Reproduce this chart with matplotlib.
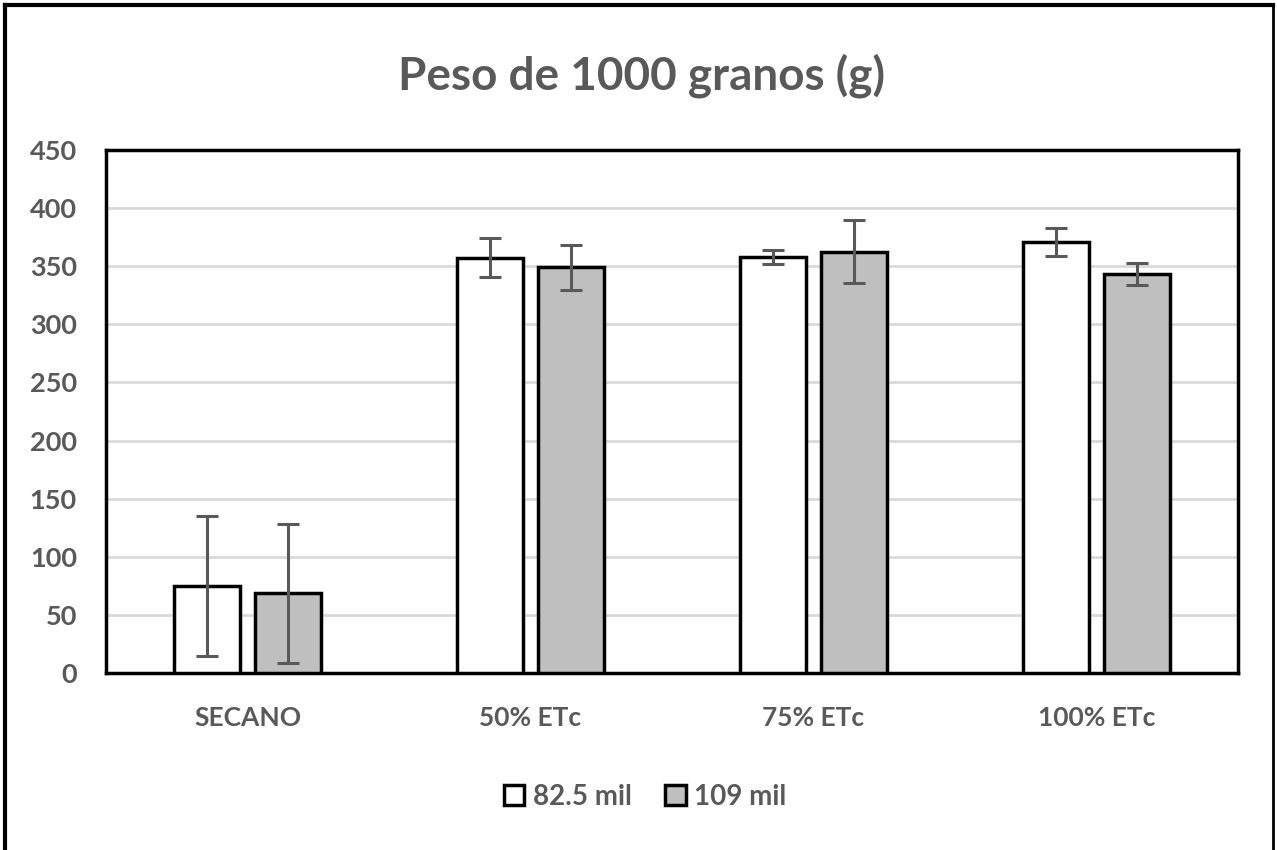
import matplotlib
matplotlib.use("Agg")
import matplotlib.pyplot as plt
from matplotlib.lines import Line2D
import numpy as np

categories = ["SECANO", "50% ETc", "75% ETc", "100% ETc"]
series_names = ["82.5 mil", "109 mil"]
vals_825 = [75, 357.5, 358, 371]
err_825 = [60, 17, 6, 12]
vals_109 = [68.5, 349, 362.5, 343]
err_109 = [59.5, 19.5, 27, 9.5]
yticks = [0, 50, 100, 150, 200, 250, 300, 350, 400, 450]

plt.rcParams['font.family'] = ['Lato', 'DejaVu Sans']
txt = '#595959'

fig = plt.figure(figsize=(12.77, 8.5), dpi=100)
W, H = 1277, 850
ax = fig.add_axes([106 / W, 1 - 673 / H, (1238 - 106) / W, (673 - 150) / H])

x = np.arange(len(categories))
bw = 0.23
off = 0.143
ekw = dict(ecolor=txt, elinewidth=2.2, capsize=8, capthick=2.2)
ax.bar(x - off, vals_825, bw, yerr=err_825, color='white', edgecolor='black',
       linewidth=2.5, label=series_names[0], error_kw=ekw, zorder=3)
ax.bar(x + off, vals_109, bw, yerr=err_109, color='#bfbfbf', edgecolor='black',
       linewidth=2.5, label=series_names[1], error_kw=ekw, zorder=3)

ax.set_xlim(-0.5, len(categories) - 0.5)
ax.set_ylim(0, 450)
ax.set_yticks(yticks)
ax.set_xticks(x)
ax.set_xticklabels(categories)
ax.tick_params(axis='y', length=0, labelsize=19.5, colors=txt, pad=21)
ax.tick_params(axis='x', length=0, labelsize=19, colors=txt, pad=24)
for lab in ax.get_xticklabels() + ax.get_yticklabels():
    lab.set_fontweight('bold')
ax.yaxis.grid(True, color='#d9d9d9', linewidth=2, zorder=0)
ax.set_axisbelow(True)
for s in ax.spines.values():
    s.set_color('black')
    s.set_linewidth(2.5)

fig.text(642 / W, 1 - 76 / H, "Peso de 1000 granos (g)", ha='center', va='center',
         fontsize=33, fontweight='bold', color=txt)

leg = fig.legend(loc='center', bbox_to_anchor=(645 / W, 1 - 797 / H), ncol=2,
                 frameon=False, fontsize=20, handlelength=0.75, handleheight=0.75,
                 handletextpad=0.3, columnspacing=1.2)
for t in leg.get_texts():
    t.set_color(txt)
    t.set_fontweight('bold')

# outer border (open at bottom)
bc = 'black'
fig.add_artist(Line2D([5 / W, 5 / W], [0, 1 - 5 / H], color=bc, lw=3, transform=fig.transFigure))
fig.add_artist(Line2D([5 / W, 1273 / W], [1 - 5 / H, 1 - 5 / H], color=bc, lw=3, transform=fig.transFigure))
fig.add_artist(Line2D([1273 / W, 1273 / W], [0, 1 - 5 / H], color=bc, lw=2, transform=fig.transFigure))

fig.savefig("out.png", dpi=100, facecolor='white')
